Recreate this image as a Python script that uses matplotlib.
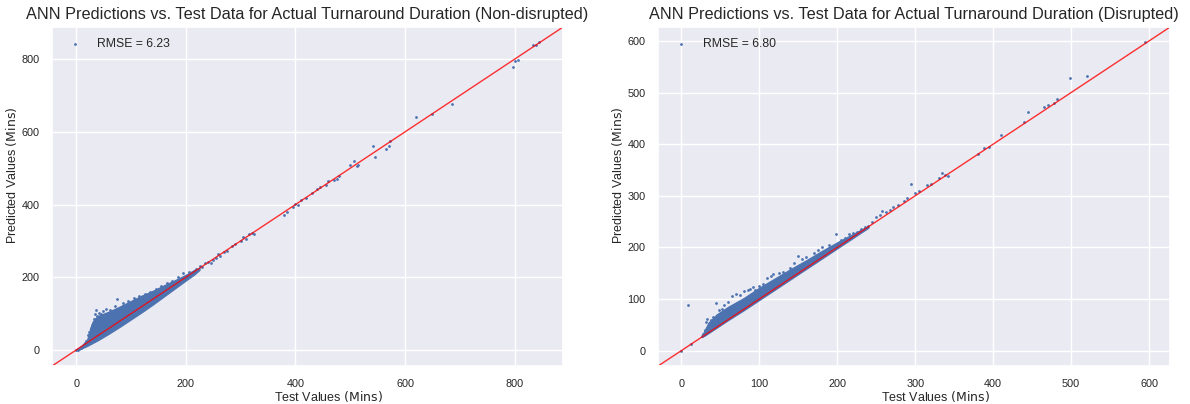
import matplotlib
matplotlib.use('Agg')
import matplotlib.pyplot as plt
import seaborn as sns
import numpy as np

sns.set_theme(style='darkgrid')
plt.rcParams['font.family'] = ['Liberation Sans', 'DejaVu Sans']
plt.rcParams['mathtext.fontset'] = 'dejavusans'

blue = '#4c72b0'

# --- Non-disrupted: dense core of the cloud ---
nd_band_x = [0, 10, 20, 25, 30, 35, 40, 50, 60, 80, 100, 120, 140, 160, 180, 200, 215, 225]
nd_band_lo = [-2, 4, 11, 15, 19, 23, 27, 36, 45, 64, 84, 104, 125, 147, 169, 191, 207, 220]
nd_band_hi = [2, 12, 30, 58, 78, 88, 94, 100, 106, 120, 135, 150, 163, 178, 192, 207, 220, 226]

# scattered points round the core and along the line
nd_x = [0, 3, 5, 8, 18, 22, 24, 26, 28, 30, 32, 34, 36, 38, 42, 45, 48, 55, 62, 70,
        75, 85, 95, 105, 115, 125, 135, 145, 155, 165, 175, 185, 195, 205, 210, 218,
        225, 230, 235, 240, 245, 250, 255, 258, 262, 270, 275, 285, 290, 300, 305,
        310, 315, 320, 325, 380, 385, 395, 400, 405, 410, 420, 430, 440, 445, 455,
        460, 470, 475, 480, 499, 507, 512, 515, 541, 545, 566, 570, 572, 620, 650,
        686, 798, 801, 807, 833, 839, 845]
nd_y = [0, -1, 3, 4, 25, 40, 48, 60, 68, 75, 85, 100, 110, 92, 102, 98, 108, 112, 110,
        120, 140, 128, 135, 142, 147, 155, 158, 168, 175, 185, 190, 200, 212, 215, 210,
        222, 230, 228, 238, 242, 240, 248, 252, 265, 258, 270, 272, 285, 292, 300, 310,
        305, 318, 322, 320, 372, 380, 392, 402, 398, 412, 418, 432, 442, 448, 455, 465,
        468, 470, 478, 510, 519, 507, 510, 560, 531, 553, 561, 576, 642, 649, 676, 779,
        795, 797, 838, 838, 846]

# --- Disrupted ---
d_band_x = [26, 30, 35, 40, 45, 60, 80, 100, 120, 140, 160, 180, 200, 220, 240]
d_band_lo = [26, 29, 34, 39, 44, 59, 78, 98, 118, 138, 158, 178, 198, 218, 238]
d_band_hi = [28, 40, 55, 62, 70, 85, 102, 122, 140, 158, 175, 193, 210, 226, 242]

d_x = [0, 9, 12, 26, 28, 30, 32, 33, 35, 38, 40, 45, 48, 52, 55, 60, 65, 70, 75, 80,
       85, 88, 92, 95, 100, 105, 110, 115, 118, 125, 130, 140, 145, 150, 155, 160,
       170, 175, 180, 190, 198, 205, 210, 215, 220, 225, 230, 235, 240, 245, 250,
       255, 258, 262, 268, 272, 278, 285, 290, 294, 300, 305, 315, 320, 330, 335,
       338, 342, 380, 388, 395, 410, 440, 445, 465, 470, 478, 482, 498, 520, 595]
d_y = [0, 88, 12, 28, 33, 40, 55, 62, 50, 60, 65, 93, 78, 80, 88, 95, 105, 110, 108,
       115, 118, 120, 124, 118, 125, 130, 140, 145, 148, 150, 152, 160, 170, 184, 178,
       182, 190, 195, 200, 205, 226, 215, 218, 225, 228, 230, 235, 240, 242, 250, 258,
       262, 270, 268, 272, 278, 282, 290, 296, 323, 305, 310, 320, 322, 335, 345, 340,
       338, 380, 392, 395, 418, 442, 463, 472, 475, 480, 487, 528, 532, 597]

panels = [
    ('ANN Predictions vs. Test Data for Actual Turnaround Duration (Non-disrupted)',
     'RMSE = 6.23', nd_band_x, nd_band_lo, nd_band_hi, nd_x, nd_y),
    ('ANN Predictions vs. Test Data for Actual Turnaround Duration (Disrupted)',
     'RMSE = 6.80', d_band_x, d_band_lo, d_band_hi, d_x, d_y),
]

fig = plt.figure(figsize=(11.9, 4.04), dpi=100)
boxes = [[0.0437, 0.094, 0.4294, 0.839], [0.553, 0.094, 0.4302, 0.839]]

for box, (title, rmse, bx, blo, bhi, px, py) in zip(boxes, panels):
    ax = fig.add_axes(box)
    ax.fill_between(bx, blo, bhi, color=blue, lw=0.8, edgecolor=blue)
    ax.scatter(px, py, s=4, color=blue, linewidths=0, label=rmse)
    lims = [min(ax.get_xlim()[0], ax.get_ylim()[0]), max(ax.get_xlim()[1], ax.get_ylim()[1])]
    ax.plot(lims, lims, color='red', lw=1, alpha=0.8)
    ax.set_xlim(lims)
    ax.set_ylim(lims)
    ax.set_title(title, fontsize=11.7, color='#262626')
    ax.set_xlabel('Test Values $(\\mathrm{Mins})$', fontsize=9, labelpad=0)
    ax.set_ylabel('Predicted Values $(\\mathrm{Mins})$', fontsize=9, labelpad=2)
    ax.xaxis.label.set_x(0.541)
    ax.yaxis.label.set_y(0.562)
    ax.tick_params(labelsize=7.8, pad=3)
    ax.legend(loc='upper left', fontsize=8.8, frameon=False)

fig.savefig('out.png', dpi=100)
